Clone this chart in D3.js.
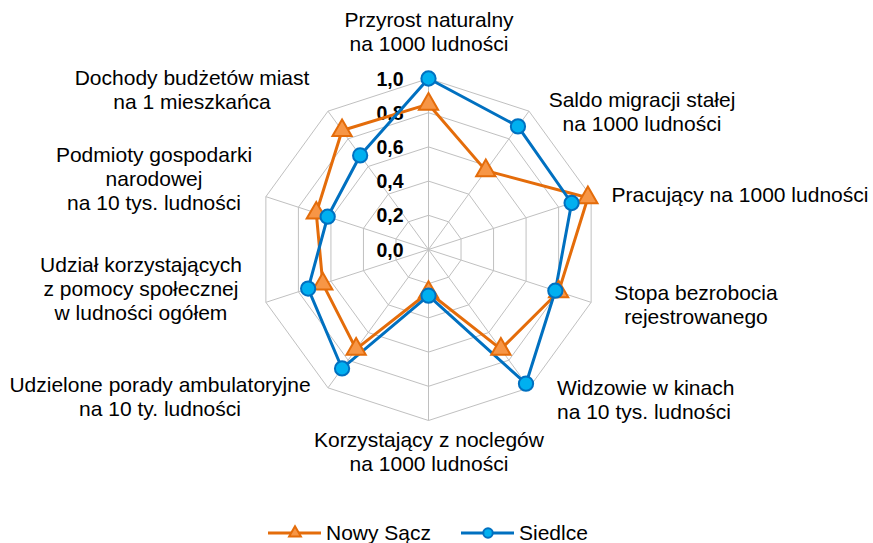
<!DOCTYPE html>
<html>
<head>
<meta charset="utf-8">
<script src="https://cdn.jsdelivr.net/npm/d3@7"></script>
<style>
  body { margin: 0; background: #fff; }
  text { font-family: "Liberation Sans", Arial, sans-serif; fill: #000; }
</style>
</head>
<body>
<div id="chart"></div>
<script>
// categories (each line of the label)
const categories = [
  ["Przyrost naturalny", "na 1000 ludności"],
  ["Saldo migracji stałej", "na 1000 ludności"],
  ["Pracujący na 1000 ludności"],
  ["Stopa bezrobocia", "rejestrowanego"],
  ["Widzowie w kinach", "na 10 tys. ludności"],
  ["Korzystający z noclegów", "na 1000 ludności"],
  ["Udzielone porady ambulatoryjne", "na 10 ty. ludności"],
  ["Udział korzystających", "z pomocy społecznej", "w ludności ogółem"],
  ["Podmioty gospodarki", "narodowej", "na 10 tys. ludności"],
  ["Dochody budżetów miast", "na 1 mieszkańca"]
];

const nowySacz = [0.85, 0.57, 0.98, 0.80, 0.72, 0.25, 0.72, 0.65, 0.69, 0.86];
const siedlce  = [1.00, 0.89, 0.88, 0.78, 0.97, 0.27, 0.86, 0.74, 0.62, 0.68];

const ticks = [0, 0.2, 0.4, 0.6, 0.8, 1.0];
const seriesNames = ["Nowy Sącz", "Siedlce"];

const width = 873, height = 543;
const cx = 428.5, cy = 249.5, R = 171;

const svg = d3.select("#chart").append("svg")
  .attr("width", width)
  .attr("height", height);

const r = d3.scaleLinear().domain([0, 1]).range([0, R]);
const angle = d3.scaleLinear().domain([0, categories.length]).range([0, 2 * Math.PI]);

const g = svg.append("g").attr("transform", `translate(${cx},${cy})`);

// grid rings
ticks.slice(1).forEach(t => {
  g.append("path")
    .datum(categories.map(() => t))
    .attr("d", d3.lineRadial()
      .angle((d, i) => angle(i))
      .radius(d => r(d))
      .curve(d3.curveLinearClosed))
    .attr("fill", "none")
    .attr("stroke", "#c0c0c0")
    .attr("stroke-width", 1);
});

// spokes
g.selectAll("line.spoke")
  .data(categories)
  .enter()
  .append("line")
  .attr("class", "spoke")
  .attr("x1", 0).attr("y1", 0)
  .attr("x2", (d, i) => r(1) * Math.sin(angle(i)))
  .attr("y2", (d, i) => -r(1) * Math.cos(angle(i)))
  .attr("stroke", "#c0c0c0")
  .attr("stroke-width", 1);

// tick labels
g.selectAll("text.tick")
  .data(ticks)
  .enter()
  .append("text")
  .attr("class", "tick")
  .attr("x", -25)
  .attr("y", d => -r(d) + 7)
  .attr("text-anchor", "end")
  .attr("font-size", 19.5)
  .attr("font-weight", "bold")
  .text(d => d3.format(".1f")(d).replace(".", ","));

// label layout: first baseline of each label block
const labelPos = [
  [429, 27], [642, 107], [740, 202], [696, 300], [557, 395],
  [429, 447], [160, 392], [141, 272], [154, 162], [192, 85]
];
const labelAnchor = ["middle", "middle", "middle", "middle", "start",
  "middle", "middle", "middle", "middle", "middle"];

svg.selectAll("text.cat")
  .data(categories)
  .enter()
  .append("text")
  .attr("class", "cat")
  .attr("font-size", 21)
  .attr("text-anchor", (d, i) => labelAnchor[i])
  .each(function(d, i) {
    const t = d3.select(this);
    d.forEach((line, j) => {
      t.append("tspan")
        .attr("x", labelPos[i][0])
        .attr("y", labelPos[i][1] + j * 24)
        .text(line);
    });
  });

// series
const series = [
  {name: seriesNames[0], values: nowySacz, line: "#E46C0A", fill: "#F79646", symbol: d3.symbolTriangle},
  {name: seriesNames[1], values: siedlce, line: "#0070C0", fill: "#00B0F0", symbol: d3.symbolCircle}
];

const radarLine = d3.lineRadial()
  .angle((d, i) => angle(i))
  .radius(d => r(d))
  .curve(d3.curveLinearClosed);

series.forEach(s => {
  g.append("path")
    .datum(s.values)
    .attr("d", radarLine)
    .attr("fill", "none")
    .attr("stroke", s.line)
    .attr("stroke-width", 3)
    .attr("stroke-linejoin", "round");
});

series.forEach(s => {
  g.selectAll(null)
    .data(s.values)
    .enter()
    .append("path")
    .attr("transform", (d, i) => `translate(${r(d) * Math.sin(angle(i))},${-r(d) * Math.cos(angle(i))})`)
    .attr("d", d3.symbol(s.symbol, s.symbol === d3.symbolCircle ? 160 : 160))
    .attr("fill", s.fill)
    .attr("stroke", s.line)
    .attr("stroke-width", 2);
});

// legend
const legendX = [268, 461];
const legend = svg.selectAll("g.legend")
  .data(series)
  .enter()
  .append("g")
  .attr("class", "legend")
  .attr("transform", (d, i) => `translate(${legendX[i]},533)`);

legend.append("line")
  .attr("x1", 0).attr("x2", 53)
  .attr("y1", 0).attr("y2", 0)
  .attr("stroke", d => d.line)
  .attr("stroke-width", 3);

legend.append("path")
  .attr("transform", "translate(27,0)")
  .attr("d", d => d3.symbol(d.symbol, d.symbol === d3.symbolCircle ? 70 : 60)())
  .attr("fill", d => d.fill)
  .attr("stroke", d => d.line)
  .attr("stroke-width", 2);

legend.append("text")
  .attr("x", 58)
  .attr("y", 7)
  .attr("font-size", 21)
  .text(d => d.name);
</script>
</body>
</html>
